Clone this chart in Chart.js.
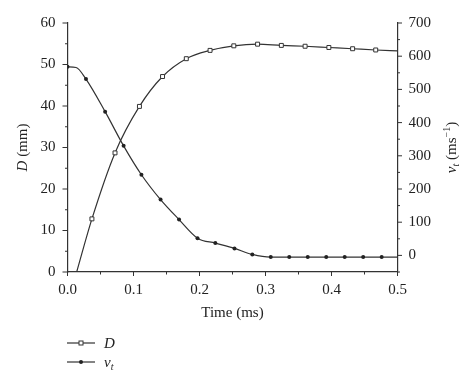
<!DOCTYPE html>
<html>
<head>
<meta charset="utf-8">
<script src="https://cdn.jsdelivr.net/npm/chart.js@4"></script>
<style>
  html, body { margin: 0; padding: 0; background: #fff; }
  #wrap { width: 474px; height: 387px; position: relative; }
</style>
</head>
<body>
<div id="wrap"><canvas id="chart" width="474" height="387"></canvas></div>
<script>
// D (mm) vs time (ms), open squares
const timeD = [0.0139, 0.037, 0.072, 0.109, 0.144, 0.180, 0.216, 0.252, 0.288, 0.324, 0.360, 0.396, 0.432, 0.467, 0.5];
const valuesD = [0, 12.8, 28.7, 39.9, 47.1, 51.4, 53.4, 54.5, 54.9, 54.6, 54.4, 54.1, 53.8, 53.5, 53.3];
const markedD = [false, true, true, true, true, true, true, true, true, true, true, true, true, true, false];

// v_t (m/s) vs time (ms), filled circles
const timeV = [0, 0.013, 0.028, 0.057, 0.085, 0.112, 0.141, 0.169, 0.197, 0.224, 0.253, 0.280, 0.308, 0.336, 0.364, 0.392, 0.420, 0.448, 0.476, 0.5];
const valuesV = [568, 566, 531, 433, 330, 243, 168, 108, 52, 37, 21, 3, -5, -5, -5, -5, -5, -5, -5, -5];
const markedV = [true, false, true, true, true, true, true, true, true, true, true, true, true, true, true, true, true, true, true, false];

// tick values
const xMajor = [0, 0.1, 0.2, 0.3, 0.4, 0.5];
const xMinor = [0.05, 0.15, 0.25, 0.35, 0.45];
const dMajor = [0, 10, 20, 30, 40, 50, 60];
const dMinor = [5, 15, 25, 35, 45, 55];
const vMajor = [0, 100, 200, 300, 400, 500, 600, 700];
const vMinor = [-50, 50, 150, 250, 350, 450, 550, 650];

const FONT = '"Liberation Serif", "DejaVu Serif", serif';
const INK = '#333';

function toPoints(xs, ys) {
  return xs.map((x, i) => ({ x: x, y: ys[i] }));
}

function setTicks(values) {
  return function(scale) {
    scale.ticks = values.map(v => ({ value: v }));
  };
}

// draws mixed-font text segments centered on (cx, cy), optionally rotated
function drawRich(ctx, parts, cx, cy, angle) {
  ctx.save();
  ctx.translate(cx, cy);
  ctx.rotate(angle || 0);
  ctx.textBaseline = 'alphabetic';
  ctx.textAlign = 'left';
  let total = 0;
  parts.forEach(p => { ctx.font = p.font; total += ctx.measureText(p.text).width; });
  let x = -total / 2;
  parts.forEach(p => {
    ctx.font = p.font;
    ctx.fillText(p.text, x, 5 + (p.dy || 0));
    x += ctx.measureText(p.text).width;
  });
  ctx.restore();
}

const decorPlugin = {
  id: 'decor',
  afterDraw(chart) {
    const ctx = chart.ctx;
    const area = chart.chartArea;
    const sx = chart.scales.x, sd = chart.scales.yD, sv = chart.scales.yV;
    ctx.save();
    ctx.strokeStyle = INK;
    ctx.lineWidth = 1;
    ctx.beginPath();
    xMajor.forEach(v => { const p = sx.getPixelForValue(v); ctx.moveTo(p, area.bottom); ctx.lineTo(p, area.bottom + 4); });
    xMinor.forEach(v => { const p = sx.getPixelForValue(v); ctx.moveTo(p, area.bottom); ctx.lineTo(p, area.bottom + 2.5); });
    dMajor.forEach(v => { const p = sd.getPixelForValue(v); ctx.moveTo(area.left, p); ctx.lineTo(area.left - 5, p); });
    dMinor.forEach(v => { const p = sd.getPixelForValue(v); ctx.moveTo(area.left, p); ctx.lineTo(area.left - 2.5, p); });
    vMajor.forEach(v => { const p = sv.getPixelForValue(v); ctx.moveTo(area.right, p); ctx.lineTo(area.right + 4.5, p); });
    vMinor.forEach(v => { const p = sv.getPixelForValue(v); ctx.moveTo(area.right, p); ctx.lineTo(area.right + 2.5, p); });
    ctx.stroke();

    ctx.fillStyle = '#222';
    const reg = '15px ' + FONT;
    const ita = 'italic 15px ' + FONT;
    const small = 'italic 10px ' + FONT;
    const sup = '10px ' + FONT;
    const midY = (area.top + area.bottom) / 2;
    drawRich(ctx, [{ text: 'Time (ms)', font: reg }], (area.left + area.right) / 2, 312, 0);
    drawRich(ctx, [{ text: 'D', font: ita }, { text: ' (mm)', font: reg }], 22, midY, -Math.PI / 2);
    drawRich(ctx, [
      { text: 'v', font: ita }, { text: 't', font: small, dy: 3 },
      { text: ' (ms', font: reg }, { text: '\u22121', font: sup, dy: -6 }, { text: ')', font: reg }
    ], 451, midY, -Math.PI / 2);

    // legend
    const rows = [
      { y: 343, style: 'rect', label: [{ text: 'D', font: ita }] },
      { y: 362, style: 'circle', label: [{ text: 'v', font: ita }, { text: 't', font: small, dy: 3 }] }
    ];
    rows.forEach(r => {
      ctx.strokeStyle = INK;
      ctx.lineWidth = 1.2;
      ctx.beginPath();
      ctx.moveTo(67, r.y); ctx.lineTo(95, r.y);
      ctx.stroke();
      if (r.style === 'rect') {
        ctx.fillStyle = '#fff';
        ctx.fillRect(79, r.y - 2, 4, 4);
        ctx.lineWidth = 1;
        ctx.strokeRect(79, r.y - 2, 4, 4);
      } else {
        ctx.fillStyle = '#222';
        ctx.beginPath(); ctx.arc(81, r.y, 2, 0, Math.PI * 2); ctx.fill();
      }
      ctx.fillStyle = '#222';
      let x = 104;
      r.label.forEach(p => {
        ctx.font = p.font;
        ctx.textAlign = 'left';
        ctx.textBaseline = 'alphabetic';
        ctx.fillText(p.text, x, r.y + 5 + (p.dy || 0));
        x += ctx.measureText(p.text).width;
      });
    });
    ctx.restore();
  }
};

const tickFont = { family: FONT, size: 15 };

new Chart(document.getElementById('chart'), {
  type: 'line',
  data: {
    datasets: [
      {
        label: 'D',
        data: toPoints(timeD, valuesD),
        yAxisID: 'yD',
        borderColor: INK,
        borderWidth: 1.2,
        cubicInterpolationMode: 'monotone',
        pointStyle: 'rect',
        pointRadius: markedD.map(m => m ? 2.8 : 0),
        pointBackgroundColor: '#fff',
        pointBorderColor: INK,
        pointBorderWidth: 1,
        fill: false
      },
      {
        label: 'v_t',
        data: toPoints(timeV, valuesV),
        yAxisID: 'yV',
        borderColor: INK,
        borderWidth: 1.2,
        cubicInterpolationMode: 'monotone',
        pointStyle: 'circle',
        pointRadius: markedV.map(m => m ? 2 : 0),
        pointBackgroundColor: '#222',
        pointBorderColor: '#222',
        pointBorderWidth: 0,
        fill: false
      }
    ]
  },
  options: {
    responsive: false,
    animation: false,
    events: [],
    layout: { padding: { top: 23, left: 0, right: 0, bottom: 0 } },
    plugins: { legend: { display: false }, tooltip: { enabled: false } },
    scales: {
      x: {
        type: 'linear',
        position: 'bottom',
        min: 0, max: 0.5,
        afterBuildTicks: setTicks(xMajor),
        afterFit(s) { s.height = 115; },
        grid: { drawOnChartArea: false, drawTicks: false },
        border: { display: true, color: INK, width: 1.2 },
        ticks: { color: '#222', font: tickFont, padding: 9, maxRotation: 0, callback: v => v.toFixed(1) }
      },
      yD: {
        type: 'linear',
        position: 'left',
        min: 0, max: 60,
        afterBuildTicks: setTicks(dMajor),
        afterFit(s) { s.width = 67.5; },
        grid: { drawOnChartArea: false, drawTicks: false },
        border: { display: true, color: INK, width: 1.2 },
        ticks: { color: '#222', font: tickFont, padding: 12 }
      },
      yV: {
        type: 'linear',
        position: 'right',
        min: -50, max: 700,
        afterBuildTicks: setTicks(vMajor),
        afterFit(s) { s.width = 76.5; },
        grid: { drawOnChartArea: false, drawTicks: false },
        border: { display: true, color: INK, width: 1.2 },
        ticks: { color: '#222', font: tickFont, padding: 11 }
      }
    }
  },
  plugins: [decorPlugin]
});
</script>
</body>
</html>
